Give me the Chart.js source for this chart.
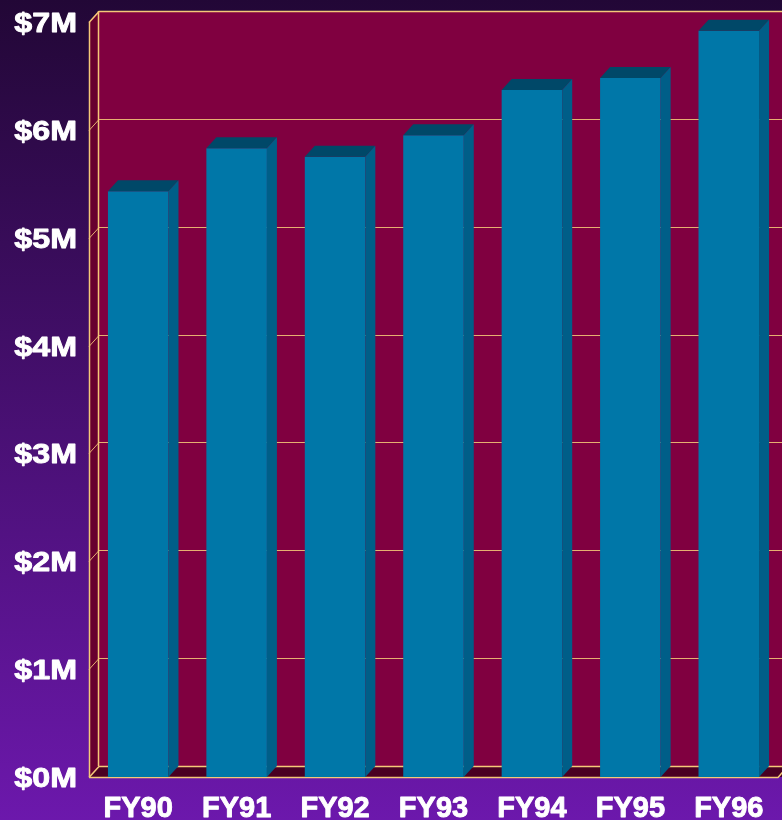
<!DOCTYPE html>
<html>
<head>
<meta charset="utf-8">
<script src="https://cdn.jsdelivr.net/npm/chart.js@4/dist/chart.umd.min.js"></script>
<style>
  html, body { margin: 0; padding: 0; background: #2a0a40; }
  #wrap { width: 782px; height: 820px; position: relative; }
</style>
</head>
<body>
<div id="wrap"><canvas id="BarChart"></canvas></div>
<script>
// data
var years = ["FY90", "FY91", "FY92", "FY93", "FY94", "FY95", "FY96"];
var revenue = [5.43, 5.83, 5.75, 5.95, 6.37, 6.48, 6.92];   // $ millions
var yTicks = [0, 1, 2, 3, 4, 5, 6, 7];
var yTickLabels = ["$0M", "$1M", "$2M", "$3M", "$4M", "$5M", "$6M", "$7M"];

var DX = 10, DY = 11;   // 3d depth offset

var backdrop = {
   id: 'backdrop',
   beforeDraw: function(chart) {
      var ctx = chart.ctx, w = chart.width, h = chart.height;
      var g = ctx.createLinearGradient(0, 0, 0, h);
      g.addColorStop(0, '#220736');
      g.addColorStop(1, '#6c18ac');
      ctx.save();
      ctx.fillStyle = g;
      ctx.fillRect(0, 0, w, h);
      ctx.restore();
   },
   beforeDatasetsDraw: function(chart) {
      var ctx = chart.ctx, a = chart.chartArea, y = chart.scales.y;
      var L = a.left, R = a.right, T = a.top, B = a.bottom;
      ctx.save();
      // back wall
      ctx.fillStyle = '#800040';
      ctx.fillRect(L + DX, T - DY, R - L + 20, B - T);
      // left wall
      ctx.fillStyle = '#68002f';
      ctx.beginPath();
      ctx.moveTo(L, T); ctx.lineTo(L + DX, T - DY); ctx.lineTo(L + DX, B - DY); ctx.lineTo(L, B);
      ctx.closePath(); ctx.fill();
      // floor
      ctx.fillStyle = '#4a0022';
      ctx.beginPath();
      ctx.moveTo(L, B); ctx.lineTo(L + DX, B - DY); ctx.lineTo(R + DX + 20, B - DY); ctx.lineTo(R + 20, B);
      ctx.closePath(); ctx.fill();

      // grid lines
      ctx.lineWidth = 1;
      yTicks.forEach(function(v) {
         var py = Math.round(y.getPixelForValue(v)) + 0.5;
         var edge = (v === 0 || v === 7);
         ctx.strokeStyle = edge ? '#f5c878' : '#e6b070';
         ctx.lineWidth = edge ? 1.5 : 1;
         ctx.beginPath();
         ctx.moveTo(L, py); ctx.lineTo(L + DX, py - DY); ctx.lineTo(R + 30, py - DY);
         ctx.stroke();
      });
      // wall edges
      ctx.strokeStyle = '#f5c878';
      ctx.lineWidth = 1.5;
      ctx.beginPath();
      ctx.moveTo(L + 0.5, T); ctx.lineTo(L + 0.5, B);
      ctx.moveTo(L + DX - 0.5, T - DY); ctx.lineTo(L + DX - 0.5, B - DY);
      ctx.moveTo(L, B + 0.5); ctx.lineTo(R, B + 0.5); ctx.lineTo(R + DX, B - DY);
      ctx.stroke();
      ctx.restore();
   },
   afterDatasetsDraw: function(chart) {
      var ctx = chart.ctx;
      var meta = chart.getDatasetMeta(0);
      ctx.save();
      meta.data.forEach(function(bar) {
         var l = bar.x - bar.width / 2, r = bar.x + bar.width / 2, t = bar.y, b = bar.base;
         // top face
         ctx.fillStyle = '#004868';
         ctx.beginPath();
         ctx.moveTo(l, t); ctx.lineTo(l + DX, t - DY); ctx.lineTo(r + DX, t - DY); ctx.lineTo(r, t);
         ctx.closePath(); ctx.fill();
         // side face
         ctx.fillStyle = '#005e88';
         ctx.beginPath();
         ctx.moveTo(r, t); ctx.lineTo(r + DX, t - DY); ctx.lineTo(r + DX, b - DY); ctx.lineTo(r, b);
         ctx.closePath(); ctx.fill();
      });

      // axis labels
      var ys = chart.scales.y, xs = chart.scales.x;
      ctx.fillStyle = '#ffffff';
      ctx.strokeStyle = '#ffffff';
      ctx.lineWidth = 0.9;
      ctx.lineJoin = 'round';
      ctx.textBaseline = 'alphabetic';
      ctx.font = 'bold 28px "Liberation Sans", Arial, sans-serif';
      ctx.textAlign = 'right';
      yTicks.forEach(function(v, i) {
         var py = ys.getPixelForValue(v);
         ctx.save();
         ctx.translate(77, py + 10);
         ctx.scale(1.15, 1);
         ctx.fillText(yTickLabels[i], 0, 0);
         ctx.strokeText(yTickLabels[i], 0, 0);
         ctx.restore();
      });
      ctx.font = 'bold 29px "Liberation Sans", Arial, sans-serif';
      ctx.textAlign = 'center';
      years.forEach(function(lbl, i) {
         ctx.fillText(lbl, xs.getPixelForValue(i), 817);
         ctx.strokeText(lbl, xs.getPixelForValue(i), 817);
      });
      ctx.restore();
   }
};

var barChartCanvas = document.getElementById('BarChart').getContext('2d');

var BarChart = new Chart(barChartCanvas, {
   type: 'bar',
   data: {
      labels: years,
      datasets: [{
         data: revenue,
         backgroundColor: '#0077a8',
         borderWidth: 0,
         categoryPercentage: 1.0,
         barPercentage: 0.615
      }]
   },
   options: {
      responsive: true,
      maintainAspectRatio: false,
      animation: false,
      layout: {
         padding: { left: 89, right: 4, top: 22, bottom: 43 }
      },
      plugins: {
         legend: { display: false },
         tooltip: { enabled: false }
      },
      scales: {
         x: { display: false },
         y: { display: false, min: 0, max: 7 }
      }
   },
   plugins: [backdrop]
});
</script>
</body>
</html>
